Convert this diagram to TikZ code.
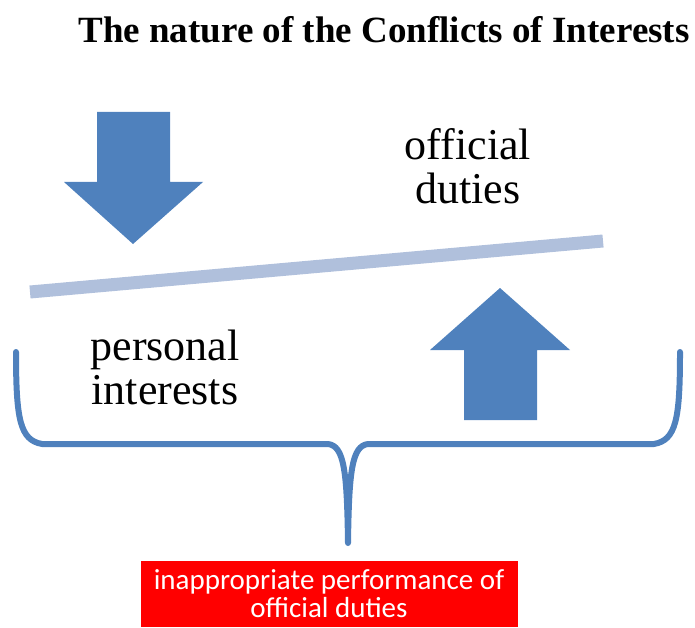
\documentclass[tikz,border=0pt]{standalone}
\usepackage{fontspec}
\setmainfont{Liberation Serif}
\newfontfamily\calfont{Carlito}
\usetikzlibrary{positioning}
\definecolor{arrowblue}{HTML}{4F81BD}
\definecolor{barblue}{HTML}{B0C0DC}

\begin{document}
\begin{tikzpicture}[x=1pt,y=-1pt,
    word/.style={font=\fontsize{44}{44}\selectfont,align=center,inner sep=0pt},
    bigarrow/.style={fill=arrowblue,draw=none},
    brace/.style={draw=arrowblue,line width=6pt,line cap=round,line join=round},
    outcome/.style={fill=red,text=white,font=\calfont\fontsize{29}{28}\selectfont,
      align=center,minimum width=377pt,minimum height=66pt,inner sep=0pt}]
  \useasboundingbox (0,0) rectangle (695,628);
  \node[font=\bfseries\fontsize{37}{40}\selectfont] (title) at (384,30)
    {The nature of the Conflicts of Interests};
  % arrow pressing down
  \fill[bigarrow] (97,112) -- (170,112) -- (170,182) -- (203,182) -- (133,244)
    -- (64,182) -- (97,182) -- cycle;
  % the tilted bar
  \coordinate (barleft) at (30,292);
  \coordinate (barright) at (603,241);
  \draw[barblue,line width=13pt] (barleft) -- (barright);
  \node[word] (duties) at (468,166) {official\\duties};
  \node[word] (interests) at (165,367) {personal\\interests};
  % arrow pushing up
  \fill[bigarrow] (464,420) -- (537,420) -- (537,350) -- (570,350) -- (500,288)
    -- (430,350) -- (464,350) -- cycle;
  % the brace
  \coordinate (bracel) at (16,352);
  \coordinate (bracer) at (680,352);
  \coordinate (tip) at (348,543);
  \draw[brace] (bracel) .. controls (16,420) and (20,440) .. (42,444)
    -- (328,444) .. controls (344,446) and (347,470) .. (tip)
    .. controls (349,470) and (352,446) .. (368,444)
    -- (654,444) .. controls (676,440) and (680,420) .. (bracer);
  \node[outcome] (result) at (329,594) {inappropriate performance of\\official duties};
\end{tikzpicture}
\end{document}
